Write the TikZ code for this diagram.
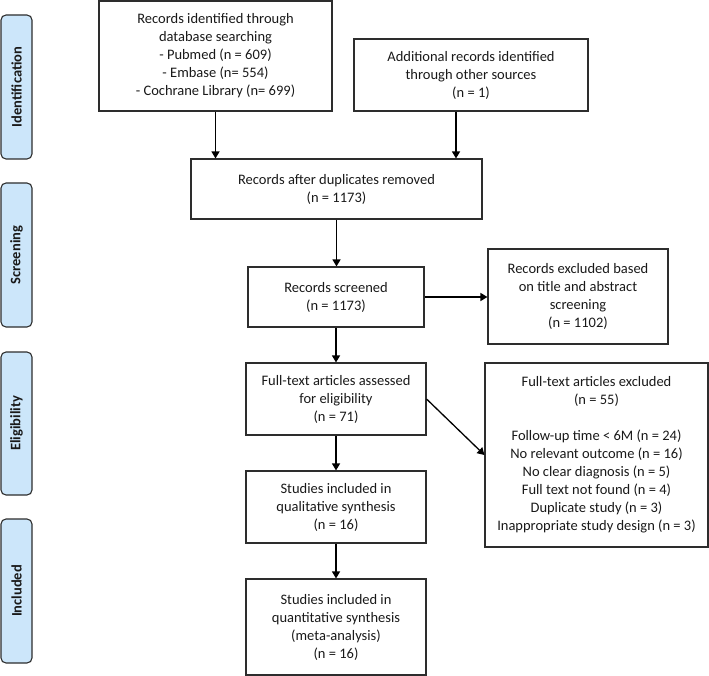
\documentclass[tikz,border=0pt]{standalone}
\usepackage{fontspec}
\setmainfont{Carlito}
\usetikzlibrary{arrows.meta}
\definecolor{phasefill}{RGB}{204,230,250}
\definecolor{edge}{RGB}{45,45,45}
\begin{document}
\begin{tikzpicture}[x=1pt,y=-1pt,
  box/.style={draw=edge, line width=1.1pt, rectangle, align=center, inner sep=2pt,
    font=\fontsize{14.5}{18}\selectfont, text=black!90},
  phase/.style={draw=edge, line width=1.1pt, rounded corners=5pt, fill=phasefill,
    minimum width=31pt, inner sep=0pt},
  phasetext/.style={rotate=90, font=\fontsize{14.5}{18}\selectfont\bfseries, text=black!90},
  arr/.style={draw=black, line width=1.3pt, -{Triangle[length=7pt,width=8pt]}}]
\useasboundingbox (0,0) rectangle (709,676);
% phase labels
\node[phase, minimum height=144pt] (p1) at (16.5,87) {};
\node[phasetext] (p1t) at (p1.center) {Identification};
\node[phase, minimum height=144pt] (p2) at (16.5,255) {};
\node[phasetext] (p2t) at (p2.center) {Screening};
\node[phase, minimum height=143pt] (p3) at (16.5,423.5) {};
\node[phasetext] (p3t) at (p3.center) {Eligibility};
\node[phase, minimum height=144pt] (p4) at (16.5,591) {};
\node[phasetext] (p4t) at (p4.center) {Included};
% boxes
\node[box, minimum width=233pt, minimum height=110pt] (b1) at (215.5,56)
  {Records identified through\\database searching\\- Pubmed (n = 609)\\- Embase (n= 554)\\- Cochrane Library (n= 699)};
\node[box, minimum width=234pt, minimum height=72pt] (b2) at (471,75)
  {Additional records identified\\through other sources\\(n = 1)};
\node[box, minimum width=291pt, minimum height=60pt] (b3) at (336.5,189)
  {Records after duplicates removed\\(n = 1173)};
\node[box, minimum width=176pt, minimum height=60pt] (b4) at (336,297)
  {Records screened\\(n = 1173)};
\node[box, minimum width=180pt, minimum height=95pt] (b5) at (578,296.5)
  {Records excluded based\\on title and abstract\\screening\\(n = 1102)};
\node[box, minimum width=180pt, minimum height=72pt] (b6) at (336,399)
  {Full-text articles assessed\\for eligibility\\(n = 71)};
\node[box, minimum width=223pt, minimum height=184pt] (b7) at (596.5,455)
  {Full-text articles excluded\\(n = 55)\\[18pt]Follow-up time < 6M (n = 24)\\No relevant outcome (n = 16)\\No clear diagnosis (n = 5)\\Full text not found (n = 4)\\Duplicate study (n = 3)\\Inappropriate study design (n = 3)};
\node[box, minimum width=180pt, minimum height=72pt] (b8) at (336,507)
  {Studies included in\\qualitative synthesis\\(n = 16)};
\node[box, minimum width=180pt, minimum height=96pt] (b9) at (336,627)
  {Studies included in\\quantitative synthesis\\(meta-analysis)\\(n = 16)};
% arrows
\draw[arr] (b1.south) -- (b1.south |- b3.north);
\draw[arr] ([xshift=-15pt]b2.south) -- ([xshift=-15pt]b2.south |- b3.north);
\draw[arr] (b3.south) -- (b3.south |- b4.north);
\draw[arr] (b4.east) -- (b4.east -| b5.west);
\draw[arr] (b4.south) -- (b4.south |- b6.north);
\draw[arr] (b6.east) -- (b7.west);
\draw[arr] (b6.south) -- (b8.north);
\draw[arr] (b8.south) -- (b9.north);
\end{tikzpicture}
\end{document}
